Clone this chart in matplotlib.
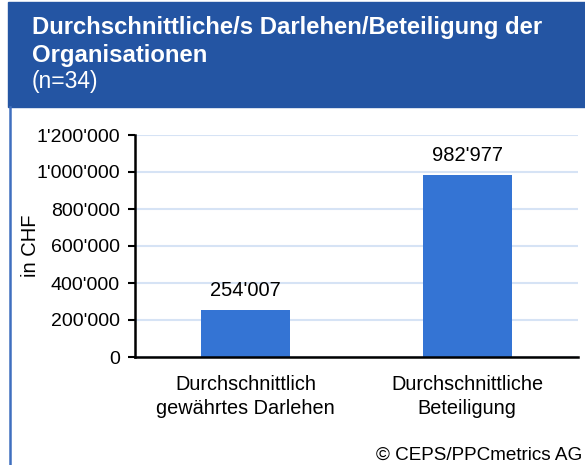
import matplotlib
matplotlib.use('Agg')
import matplotlib.pyplot as plt
from matplotlib.ticker import FuncFormatter, MultipleLocator
from matplotlib.patches import Rectangle
from matplotlib.lines import Line2D

plt.rcParams['font.family'] = ['Liberation Sans', 'DejaVu Sans']

# Daten
kategorien = ['Durchschnittlich\ngewährtes Darlehen', 'Durchschnittliche\nBeteiligung']
werte = [254007, 982977]
titel_zeilen = ['Durchschnittliche/s Darlehen/Beteiligung der', 'Organisationen']
untertitel = '(n=34)'
quelle = '\u00a9 CEPS/PPCmetrics AG'

blau_kopf = '#2455A3'
blau_balken = '#3474D4'
gitter = '#D6E3F5'


def chf(x, pos):
    return f'{int(x):,}'.replace(',', "'")


W, H = 585, 465
fig = plt.figure(figsize=(W / 100, H / 100), dpi=100)

# Kopfbereich
fig.patches.append(Rectangle((8 / W, 1 - 107 / H), 1, 105 / H,
                             transform=fig.transFigure, color=blau_kopf, zorder=0))
fig.lines.append(Line2D([10 / W, 10 / W], [0, 1 - 107 / H], transform=fig.transFigure,
                        color='#3F6FBF', lw=1.8))
for k, zeile in enumerate(titel_zeilen):
    fig.text(32 / W, 1 - (34 + 28 * k) / H, zeile, color='white', fontsize=17.2,
             fontweight='bold', va='baseline', ha='left')
fig.text(32 / W, 1 - 88 / H, untertitel, color='white', fontsize=16.5, va='baseline', ha='left')

ax = fig.add_axes([135 / W, 108 / H, 443 / W, 222 / H])
ax.bar(range(len(werte)), werte, width=0.4, color=blau_balken, zorder=2)
for i, v in enumerate(werte):
    ax.annotate(chf(v, None), (i, v), xytext=(0, 7), textcoords='offset points',
                ha='center', va='bottom', fontsize=14.5)

ax.set_xlim(-0.5, 1.5)
ax.set_ylim(0, 1200000)
ax.yaxis.set_major_locator(MultipleLocator(200000))
ax.yaxis.set_major_formatter(FuncFormatter(chf))
ax.grid(axis='y', color=gitter, lw=1.5, zorder=0)
ax.set_axisbelow(True)
ax.set_xticks(range(len(kategorien)))
ax.set_xticklabels(kategorien, fontsize=14.3, linespacing=1.3)
ax.tick_params(axis='x', length=0, pad=13)
ax.tick_params(axis='y', labelsize=14, length=5, width=1.5, pad=6)
for s in ['top', 'right']:
    ax.spines[s].set_visible(False)
ax.spines['left'].set_linewidth(1.8)
ax.spines['bottom'].set_linewidth(1.8)
ax.set_ylabel('in CHF', fontsize=14.5)
ax.yaxis.set_label_coords(-(135 - 40) / 443, 0.5)

fig.text(582 / W, 1 - 455 / H, quelle, fontsize=13.6, ha='right', va='center')

fig.savefig('out.png', dpi=100)
